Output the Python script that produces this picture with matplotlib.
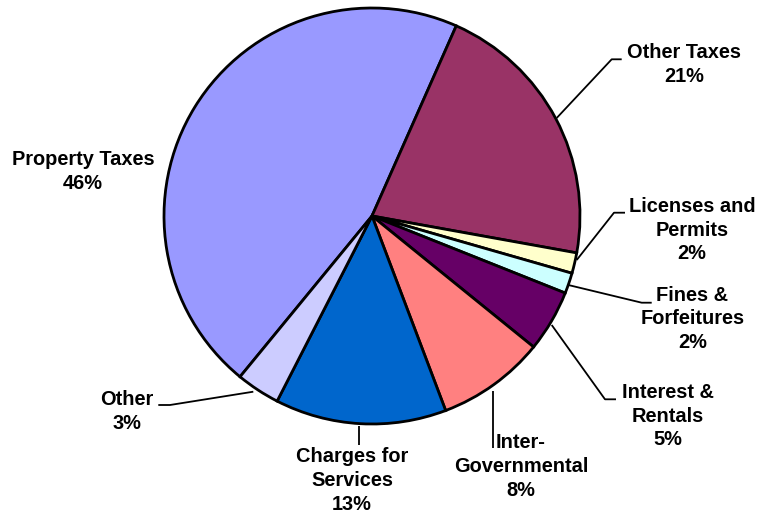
import matplotlib
matplotlib.use("Agg")
import matplotlib.pyplot as plt

categories = ["Property Taxes", "Other Taxes", "Licenses and\nPermits", "Fines &\nForfeitures",
              "Interest &\nRentals", "Inter-\nGovernmental", "Charges for\nServices", "Other"]
values = [45.7, 21.2, 1.6, 1.6, 4.8, 8.4, 13.3, 3.4]
pct_labels = ["46%", "21%", "2%", "2%", "5%", "8%", "13%", "3%"]
colors = ["#9999FF", "#993366", "#FFFFCC", "#CCFFFF", "#660066", "#FF8080", "#0066CC", "#CCCCFF"]

W, H = 757, 515
fig = plt.figure(figsize=(W / 100, H / 100), dpi=100)
ax = fig.add_axes([0, 0, 1, 1])

cx, cy, r = 372, 216, 208
start = 66.1 + 360 * values[0] / sum(values)
ax.pie(values, colors=colors, startangle=start, counterclock=False,
       center=(cx, H - cy), radius=r,
       wedgeprops=dict(edgecolor="black", linewidth=2))
ax.set_xlim(0, W)
ax.set_ylim(0, H)
ax.set_aspect("equal")
ax.axis("off")

# label positions (pixel coords, y downward)
label_pos = [(83, 171.5), (684, 64.7), (692, 230), (692.5, 319),
             (667.5, 416), (521, 466.7), (352, 480.5), (127, 411.5)]
leaders = [
    None,
    [(556.7, 118), (611.7, 59.3), (621.7, 59.3)],
    [(576.7, 260), (614, 212.7), (625, 212.7)],
    [(568.3, 285), (641.7, 302.7), (651.7, 302.7)],
    [(551.7, 325), (605, 399.3), (616, 399.3)],
    [(493.3, 391), (493.3, 448)],
    [(359, 426), (359, 445)],
    [(253.3, 391.7), (170, 405), (158.3, 405)],
]

for name, pct, (lx, ly), ld in zip(categories, pct_labels, label_pos, leaders):
    ax.text(lx, H - ly, f"{name}\n{pct}", ha="center", va="center", multialignment="center",
            fontsize=14.4, fontweight="bold", family=["Liberation Sans", "DejaVu Sans"],
            linespacing=1.32)
    if ld:
        xs = [p[0] for p in ld]
        ys = [H - p[1] for p in ld]
        ax.plot(xs, ys, color="black", lw=1.3, solid_capstyle="butt")

fig.savefig("out.png", dpi=100)
